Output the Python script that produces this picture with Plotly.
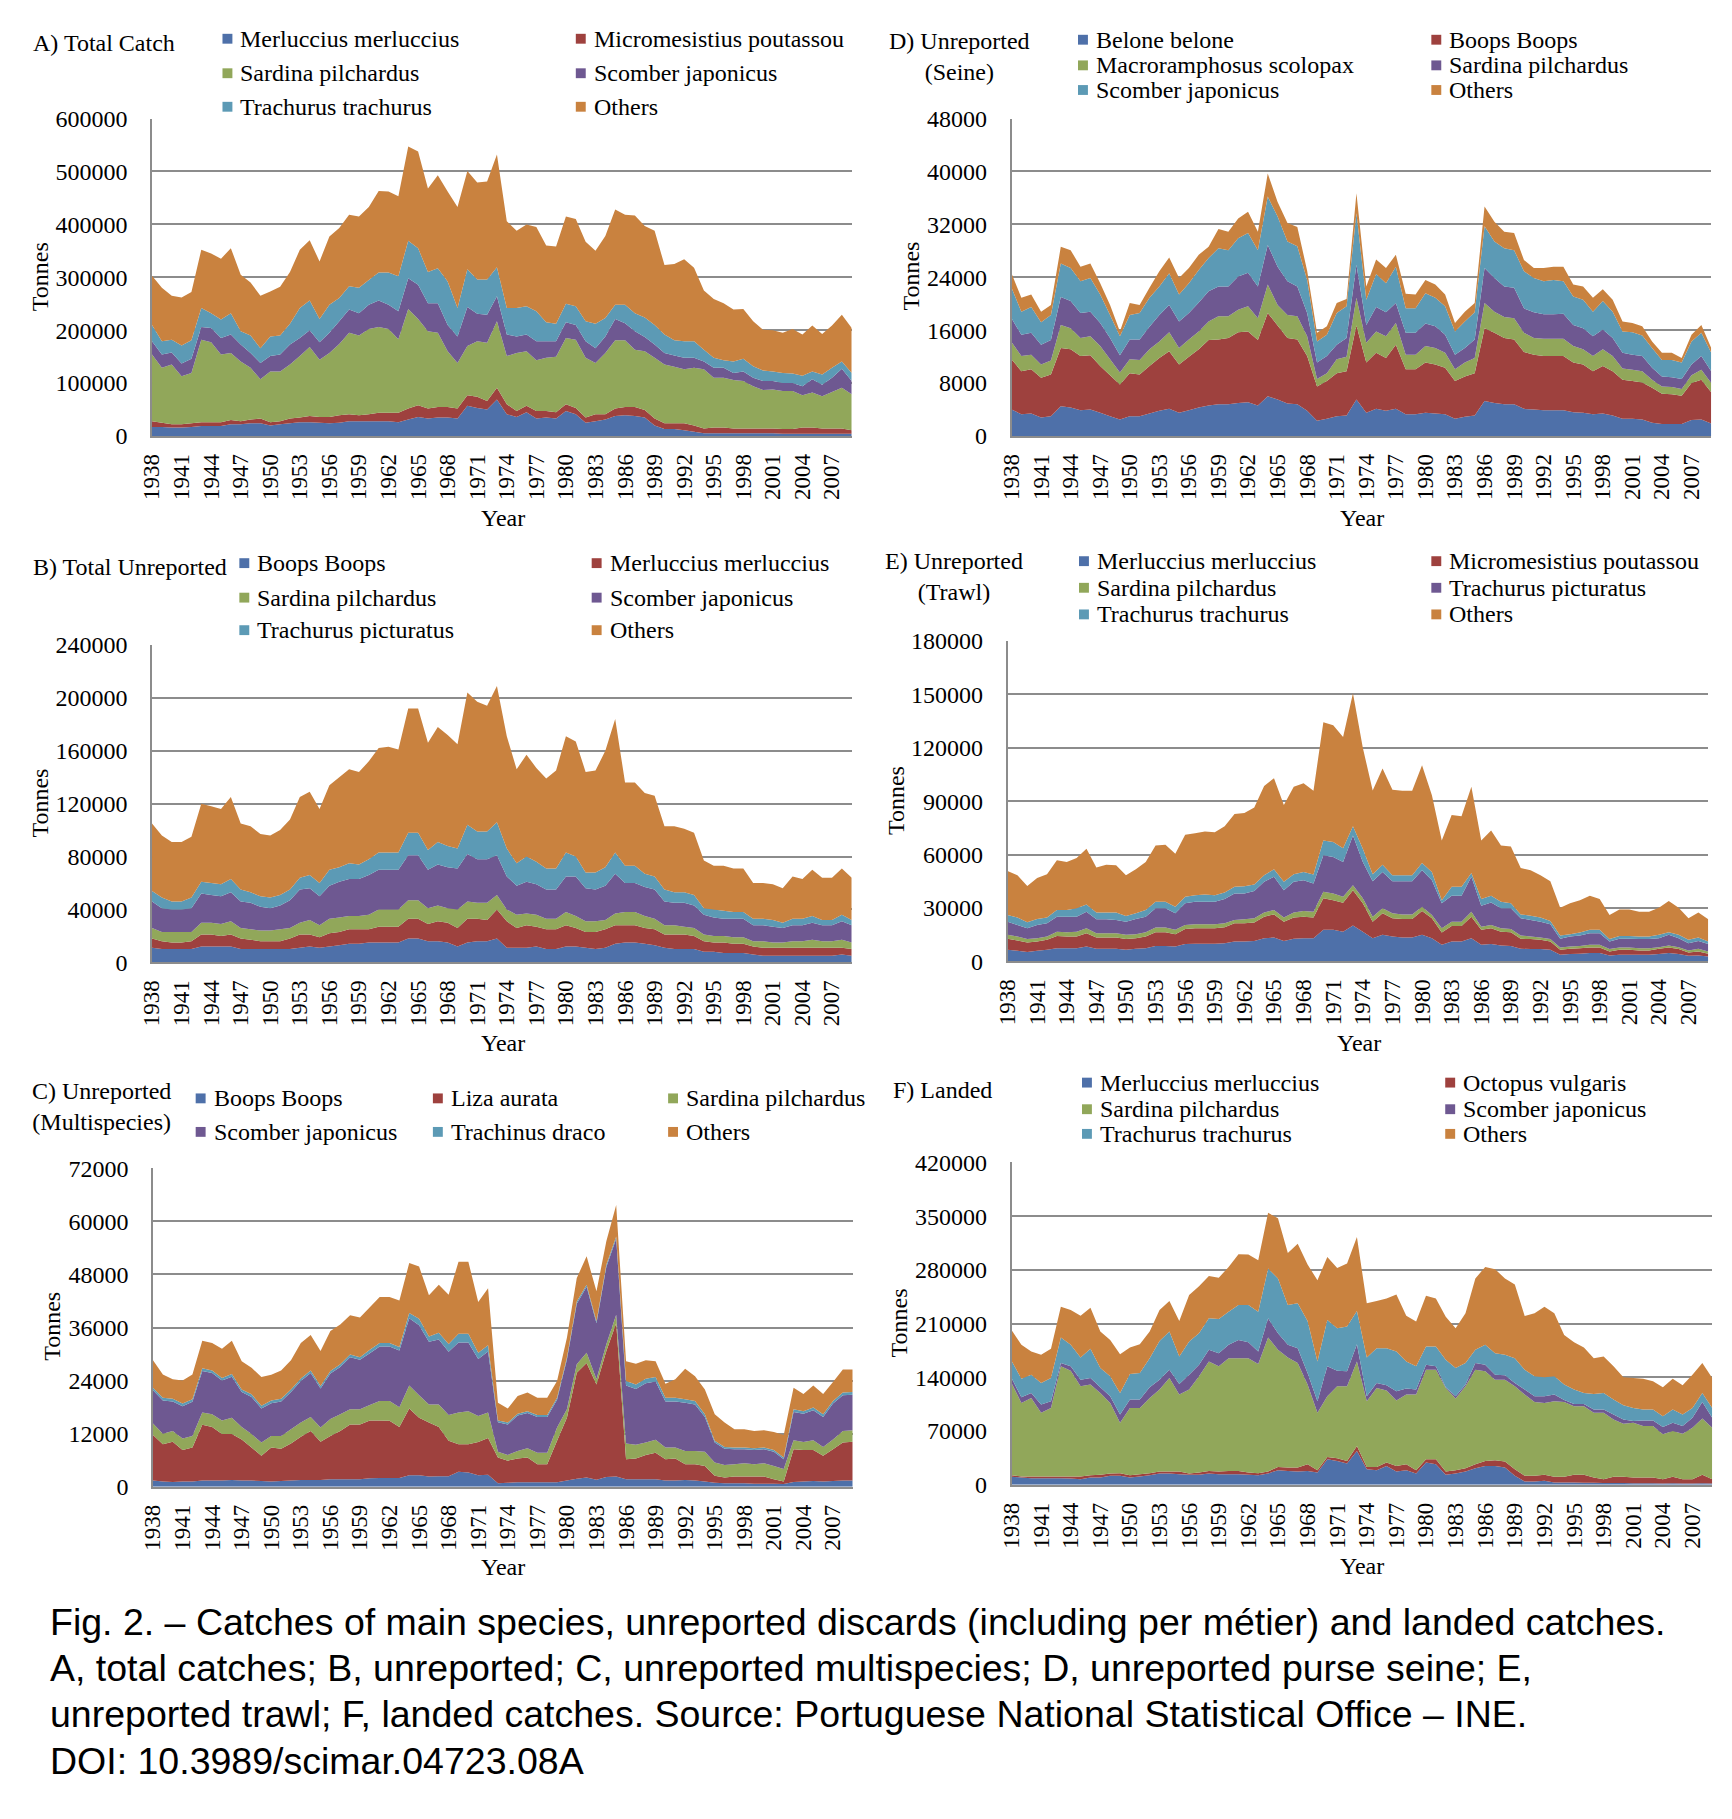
import plotly.graph_objects as go

W, H = 1732, 1819
YEARS = list(range(1938, 2010))
TICK_YEARS = YEARS[::3]

# ---------------- data (thousand tonnes) ----------------
# A) Total Catch
A_merluccius = [17,17,16,16,17,19,19,19,22,22, 24,24,20,22,24,26,26,25,24,25, 28,28,28,28,28,26,31,36,33,35,
                35,33,57,53,50,69,41,36,45,33, 35,33,47,41,25,28,31,38,39,38, 35,20,13,13,11,8,5,5,5,5,
                5,5,5,5,4,4,4,4,4,4, 4,4]
A_micromesistius = [11,8,6,6,7,7,7,7,8,6, 7,9,6,6,9,9,12,11,12,14, 13,11,13,16,16,18,21,22,19,20,
                    20,19,20,21,16,22,19,11,12,14, 12,12,13,12,10,13,10,14,16,17, 14,13,11,11,13,12,9,11,11,9,
                    9,9,9,9,9,9,12,12,10,10, 10,7]
A_sardina = [126,104,113,91,95,156,151,128,127,113, 98,74,96,94,102,116,130,108,121,135,
             154,151,161,162,158,139,188,163,146,140, 105,86,93,105,110,126,91,110,103,96,
             101,105,125,129,113,97,116,129,126,108, 111,115,111,107,102,109,112,94,94,92,
             90,80,73,74,72,72,61,66,61,69, 77,68]
A_scomber = [25,25,23,24,27,24,27,31,35,32, 28,31,29,32,38,34,32,33,38,43, 44,42,46,50,46,53,58,65,53,56,
             50,50,74,52,53,47,41,31,32,36, 31,29,30,28,31,28,31,40,32,35, 27,25,22,21,22,19,15,19,19,13,
             18,16,17,16,15,15,17,25,22,27, 36,25]
A_trachurus = [31,25,24,34,35,36,28,35,40,25, 33,28,37,36,39,57,56,44,53,44, 44,48,47,53,61,66,71,69,59,66,
               82,54,71,65,67,55,50,54,53,57, 36,33,35,35,38,46,35,27,35,34, 37,37,35,29,31,31,22,19,14,22,
               24,22,20,18,19,18,20,15,19,19, 14,15]
A_others = [93,101,83,91,91,110,113,115,123,107, 100,99,85,92,98,110,114,109,129,132,
            135,135,138,154,153,151,178,183,158,176, 170,191,186,183,185,213,164,146,155,159,
            145,146,165,165,150,138,155,180,170,185, 173,178,131,144,155,139,112,111,108,98,
            94,85,77,78,76,84,78,87,77,80, 88,85]

# B) Total Unreported
B_boops = [11,10,10,10,10,12,12,12,12,10, 10,10,10,10,10,11,12,11,12,13, 14,14,15,15,15,15,18,18,16,16,
           15,12,15,16,16,18,11,11,11,12, 10,10,12,12,11,10,11,14,15,15, 14,13,11,10,10,10,8,8,7,7,
           7,6,5,5,5,5,5,5,5,5, 6,5]
B_merluccius = [7,6,5,5,6,9,9,8,9,8, 7,6,6,6,8,10,9,8,10,10, 11,11,10,12,12,12,15,15,13,15,
                15,14,18,17,16,22,20,15,17,15, 15,15,16,14,12,13,14,14,13,13, 12,12,10,11,11,10,8,7,8,7,
                7,6,6,6,6,6,6,6,6,6, 5,5]
B_sardina = [8,7,8,8,7,9,9,9,10,8, 8,8,8,9,8,9,11,9,11,11, 10,10,11,13,13,13,14,14,12,12,
             11,14,13,12,13,11,9,10,9,9, 8,8,10,9,8,8,7,9,10,10, 9,8,7,7,6,6,5,5,5,5,
             5,4,5,4,4,5,5,6,5,5, 6,5]
B_scomber = [20,18,17,17,18,22,21,21,22,20, 20,18,17,18,21,25,24,22,25,27, 28,28,30,30,30,30,34,34,29,31,
             31,31,36,33,33,30,25,22,24,23, 22,22,27,30,25,24,26,30,22,22, 22,22,18,17,18,17,15,14,13,14,
             14,12,12,12,11,12,12,13,12,12, 14,13]
B_picturatus = [8,8,6,6,8,9,9,9,10,9, 8,8,8,8,8,9,10,10,12,11, 12,11,12,13,13,13,17,17,15,17,
                16,15,22,21,21,25,21,17,19,17, 16,16,18,15,12,13,14,16,13,13, 10,10,9,8,8,8,5,6,6,5,
                5,5,5,5,4,5,5,5,4,4, 5,4]
B_others = [51,47,45,45,46,59,58,57,62,50, 50,47,47,49,53,61,63,56,64,68, 71,70,74,79,80,78,94,94,81,87,
            84,79,100,98,95,103,85,71,77,71, 68,74,88,87,76,77,88,101,63,63, 61,61,48,50,48,47,36,33,34,33,
            33,27,27,27,26,32,30,35,32,32, 35,32]

# C) Unreported (Multispecies)
C_boops = [1.4,1.2,1.1,1.2,1.2,1.4,1.4,1.4,1.5,1.4, 1.4,1.3,1.2,1.3,1.4,1.5,1.5,1.5,1.7,1.7,
           1.7,1.7,1.9,2.0,2.0,2.0,2.6,2.6,2.3,2.4, 2.4,3.4,3.2,2.6,2.7,0.8,0.9,1.0,1.0,1.0,
           1.0,1.0,1.4,1.8,2.1,1.6,2.2,2.3,1.7,1.7, 1.7,1.7,1.4,1.4,1.5,1.4,1.2,0.9,0.8,0.8,
           0.8,0.7,0.7,0.7,0.6,1.1,1.2,1.3,1.2,1.3, 1.4,1.4]
C_liza = [10.3,8.4,9.1,7.1,7.7,12.6,12.1,10.5,10.4,9.3, 7.5,5.7,7.7,7.3,8.4,9.8,11.1,8.7,9.8,10.9,
          12.4,12.4,13.1,13.0,12.9,11.5,15.1,13.0,12.2,11.1, 8.0,6.2,6.4,7.5,8.3,5.8,5.0,5.4,5.6,4.1,
          4.1,9.4,14.2,24.0,25.9,21.5,28.5,34.7,4.5,4.7, 5.5,6.0,4.8,5.0,3.6,3.7,3.5,1.6,1.3,1.5,
          1.5,1.6,1.6,1.0,0.6,7.4,7.1,7.0,5.8,7.2, 8.6,8.8]
C_sardina = [2.6,2.4,2.4,2.6,2.6,2.8,2.9,3.1,3.7,2.8, 3.0,3.0,2.6,2.9,3.2,3.2,3.2,3.2,3.8,3.8,
             3.4,3.4,3.5,4.4,4.5,4.5,5.2,5.1,4.1,5.1, 5.8,7.2,7.5,5.9,5.8,1.3,1.3,1.7,2.1,2.6,
             2.6,3.0,1.9,1.9,2.3,1.2,1.5,1.9,3.6,3.1, 2.8,2.9,2.7,2.5,3.0,3.0,3.2,3.0,2.8,2.8,
             3.0,2.8,3.0,3.0,2.8,2.0,1.8,2.2,2.0,2.2, 2.6,2.6]
C_scomber = [7.5,7.5,6.7,7.3,7.7,9.4,9.3,9.0,9.3,7.9, 8.4,7.7,7.4,7.8,8.4,9.4,9.9,8.8,10.3,10.7,
             11.8,11.2,11.7,12.3,12.3,12.8,15.2,15.8,14.2,14.7, 14.3,15.8,15.5,12.9,13.8,6.7,6.9,8.0,8.0,8.1,
             8.1,6.3,11.3,13.7,14.9,12.7,17.5,17.2,13.1,12.6, 13.4,13.2,10.4,10.4,10.9,10.5,7.9,4.5,3.7,3.4,
             3.2,3.2,3.2,3.2,2.2,6.4,6.4,6.8,6.8,8.1, 8.1,8.0]
C_trachinus = [0.6,0.6,0.6,0.6,0.6,0.6,0.6,0.6,0.6,0.6, 0.6,0.6,0.6,0.6,0.6,0.6,0.6,0.6,0.6,0.6,
               0.6,0.6,0.8,0.8,0.8,0.8,1.2,1.5,1.2,1.5, 1.8,2.0,2.0,1.4,1.4,0.4,0.4,0.4,0.4,0.4,
               0.4,0.4,0.4,0.5,0.5,0.4,0.5,0.5,1.0,1.0, 1.0,1.0,0.8,0.8,0.8,0.8,0.6,0.4,0.4,0.4,
               0.4,0.4,0.4,0.4,0.4,0.6,0.6,0.6,0.6,0.6, 0.6,0.6]
C_others = [6.2,5.3,4.4,5.2,5.6,6.2,6.2,6.6,7.5,6.4, 6.0,6.5,5.8,6.4,6.6,8.0,8.0,7.9,9.0,9.0,
            8.9,9.0,9.6,10.4,10.4,10.5,11.3,11.8,9.3,10.9, 11.1,16.3,16.3,11.5,12.9,4.0,3.2,4.0,4.2,3.9,
            3.9,3.8,4.5,5.3,6.4,6.8,5.3,7.1,4.5,4.7, 4.2,3.6,3.2,4.2,6.9,5.6,5.6,6.0,5.5,4.1,
            4.1,3.9,3.9,4.1,5.1,4.9,3.9,5.0,4.6,4.3, 5.2,5.1]

# D) Unreported (Seine)
D_belone = [4.0,3.3,3.4,2.8,3.0,4.5,4.3,3.9,4.0,3.5, 3.0,2.5,3.0,3.0,3.4,3.8,4.1,3.5,3.9,4.3,
            4.6,4.8,4.8,5.0,5.1,4.6,6.0,5.5,4.9,4.8, 3.8,2.3,2.6,3.0,3.1,5.5,3.5,4.1,3.8,4.1,
            3.3,3.3,3.5,3.4,3.3,2.6,2.9,3.1,5.3,5.0, 4.8,4.8,4.1,4.0,3.9,3.9,3.9,3.6,3.5,3.3,
            3.4,3.1,2.6,2.6,2.5,2.0,1.8,1.8,1.8,2.4, 2.5,1.9]
D_boops = [7.6,6.5,6.7,6.0,6.3,8.8,8.8,8.2,8.2,7.1, 6.2,5.3,6.5,6.3,7.2,8.0,8.7,7.3,8.1,8.8,
           9.9,9.8,10.0,10.7,10.7,9.9,12.6,11.2,9.9,9.8, 8.3,5.2,5.7,6.5,6.7,11.2,7.6,8.5,8.0,9.7,
           6.8,6.8,7.6,7.4,7.0,5.7,6.1,6.4,11.0,10.6, 10.0,9.8,8.6,8.3,8.2,8.2,8.2,7.5,7.3,6.5,
           7.2,6.7,5.9,5.7,5.6,5.3,4.6,4.5,4.3,5.6, 6.0,4.7]
D_macroramphosus = [2.6,2.3,2.2,2.0,2.1,3.5,3.2,2.7,2.9,3.0, 2.4,1.8,2.1,2.2,2.5,2.5,2.9,2.5,2.6,2.7,
                    2.8,3.5,3.3,3.4,3.8,3.3,4.3,3.1,3.5,3.5, 3.0,1.1,1.2,2.1,2.2,4.2,3.0,3.2,3.3,3.3,
                    2.2,2.2,2.5,2.5,2.3,1.8,2.1,2.3,3.8,3.2, 3.2,3.2,2.9,2.5,2.6,2.6,2.6,2.5,2.3,2.3,
                    2.5,2.3,1.7,1.7,1.7,1.2,1.1,1.1,1.0,1.2, 1.5,1.4]
D_sardina = [3.6,3.2,3.3,3.0,3.1,4.2,4.1,3.8,3.7,3.5, 3.2,2.6,3.0,3.1,3.4,4.0,4.1,4.0,4.0,4.4,
             4.6,4.5,4.5,5.0,5.1,4.8,6.0,5.8,5.1,4.5, 3.5,2.5,2.6,2.2,2.8,5.0,2.7,3.7,3.6,3.0,
             3.3,3.3,3.4,3.3,2.7,2.2,2.2,2.8,5.3,5.1, 4.6,4.6,3.7,3.9,3.7,3.7,3.8,3.2,3.2,3.0,
             3.0,2.7,2.4,2.3,2.3,1.8,1.5,1.5,1.5,1.6, 2.1,1.8]
D_scomber = [4.6,3.5,3.9,3.4,3.8,5.1,5.0,4.8,5.1,4.3, 3.5,2.9,3.7,4.0,4.4,4.3,4.8,4.1,4.5,4.9,
             5.0,5.8,5.5,5.8,6.0,5.5,7.3,7.6,6.0,6.1, 5.0,3.2,3.2,4.8,4.8,7.8,3.8,5.0,4.4,5.5,
             3.7,3.7,4.6,4.3,4.3,3.5,4.0,4.1,6.3,5.5, 5.8,5.7,5.6,5.2,5.0,5.2,4.9,4.3,4.3,3.7,
             4.3,4.0,3.2,3.4,3.1,3.0,2.5,2.6,2.5,3.5, 3.5,2.8]
D_others = [2.2,2.1,1.9,1.6,1.5,2.5,2.7,2.2,2.2,1.7, 1.5,0.7,1.8,1.2,1.5,2.3,2.4,2.5,2.3,2.3,
            1.7,2.9,2.8,3.0,3.2,2.8,3.5,2.2,2.8,2.9, 1.4,1.3,1.3,1.5,1.1,3.0,2.0,2.2,2.3,1.8,
            2.2,2.1,2.0,2.0,1.8,1.3,1.5,1.4,3.0,3.0, 2.5,2.6,1.7,1.5,2.0,2.0,2.2,1.8,2.0,2.1,
            1.8,1.8,1.5,1.4,1.4,1.0,1.1,1.1,0.7,1.0, 1.2,0.7]

# E) Unreported (Trawl)
E_merluccius = [6.5,6.0,5.2,6.0,6.5,7.4,7.4,7.4,8.4,7.1, 7.1,7.1,6.5,7.1,7.4,8.7,8.7,8.4,9.7,9.9,
                9.9,9.9,10.2,11.2,11.2,11.5,13.0,13.4,11.5,12.7, 13.0,13.0,17.7,17.7,16.7,20.1,16.7,13.0,14.9,14.0,
                13.4,13.4,14.9,13.0,9.3,11.2,11.2,13.0,9.3,9.7, 8.9,8.7,7.1,6.9,6.9,6.5,3.7,4.1,4.3,4.7,
                4.7,3.3,3.7,3.7,3.7,3.7,4.1,4.7,4.1,3.2, 3.3,2.8]
E_micromesistius = [6.2,5.7,5.4,5.2,5.6,6.9,6.6,6.6,7.4,6.3, 6.3,6.3,6.0,5.9,6.6,7.7,7.7,6.9,8.5,8.7,
                    8.7,8.7,9.0,10.2,10.2,10.3,12.1,13.0,10.8,11.9, 12.1,11.7,17.7,16.7,16.2,19.9,15.9,9.3,12.1,10.2,
                    10.4,10.4,13.4,11.2,6.9,8.7,8.7,12.1,8.4,8.9, 7.8,7.7,5.6,5.6,5.2,4.7,2.8,3.0,3.1,3.1,
                    3.1,2.3,2.8,2.8,2.4,2.4,3.0,3.1,2.8,1.8, 2.3,1.5]
E_sardina = [2.2,2.3,1.9,1.8,1.9,2.4,2.4,2.7,2.8,2.4, 2.4,2.4,2.4,2.3,2.4,2.6,2.6,2.4,2.3,2.2,
             2.2,2.2,2.2,1.9,2.2,2.4,2.4,2.4,2.3,2.9, 3.2,3.2,3.7,3.7,3.4,2.8,2.8,2.8,2.8,2.8,
             2.6,2.6,2.4,1.9,2.4,2.4,2.4,2.8,1.8,1.9, 1.9,1.8,1.8,1.5,1.3,1.3,1.3,1.3,1.3,1.5,
             1.5,1.3,1.3,1.3,1.3,1.3,0.9,1.1,1.1,1.1, 1.5,1.3]
E_picturatus = [7.4,6.5,6.1,7.5,7.4,8.4,8.7,8.4,9.3,7.8, 7.8,7.5,7.4,8.5,8.7,10.8,10.8,9.3,12.1,12.7,
                12.7,12.7,13.6,14.8,14.5,15.3,17.2,18.7,15.4,17.2, 17.3,15.8,20.5,20.5,19.5,27.9,20.4,19.9,20.4,18.0,
                18.6,18.6,20.5,19.5,14.0,14.5,14.5,19.6,11.8,12.6, 11.2,11.6,9.7,9.3,8.9,8.3,4.9,5.6,5.8,6.5,
                6.5,4.3,4.9,4.9,5.1,5.1,5.0,6.0,5.0,4.1, 4.4,4.1]
E_trachurus = [3.8,4.1,3.4,3.3,3.2,3.7,3.7,4.7,4.1,3.8, 3.9,4.2,3.2,3.2,3.7,3.7,3.7,3.7,3.7,3.7,
               4.1,3.7,3.7,3.8,4.1,3.7,3.7,4.2,4.7,4.3, 4.6,5.1,8.3,8.4,7.8,5.2,7.5,4.0,4.1,3.4,
               3.4,3.4,4.1,4.6,1.8,5.1,5.1,2.2,3.7,3.7, 3.7,2.8,2.2,2.4,2.3,1.9,1.8,1.3,1.7,1.9,
               1.9,1.3,1.6,1.6,1.5,1.5,1.9,1.5,1.9,1.9, 1.9,1.5]
E_others = [24.7,23.8,20.4,23.1,24.4,28.0,27.0,28.3,31.3,25.3, 26.8,26.5,22.9,24.7,27.0,31.6,32.0,29.8,34.8,34.8,
            35.3,35.4,37.2,40.9,41.2,43.3,50.2,51.2,43.1,49.1, 49.9,47.0,66.5,65.7,62.4,74.8,56.7,47.0,54.0,48.0,
            47.4,47.4,54.9,43.2,33.5,40.4,39.6,48.4,32.9,36.7, 31.6,32.0,26.1,25.5,23.8,22.3,15.6,17.3,18.2,19.1,
            17.3,13.6,14.9,14.9,13.9,13.9,15.2,17.5,15.2,12.1, 14.0,12.4]

# F) Landed
F_merluccius = [10.4,9.5,8.6,8.6,8.6,8.6,8.2,7.3,9.5,9.5, 11.7,11.7,9.5,10.8,12.5,14.7,14.7,13.8,13.0,13.0,
                14.7,13.8,13.8,13.8,13.0,12.5,14.7,19.0,18.1,17.3, 18.1,16.0,33.3,31.1,27.7,44.1,20.3,19.0,24.6,17.3,
                19.0,14.7,29.0,26.8,13.0,14.7,17.3,21.6,24.6,24.6, 22.5,11.7,4.3,4.3,5.2,3.0,3.0,3.0,2.8,2.5,
                2.2,2.2,2.2,2.0,2.0,2.0,1.8,2.0,1.8,1.8, 2.0,1.8]
F_octopus = [2.1,1.3,2.2,2.2,2.2,2.2,2.6,3.5,3.0,3.5, 3.0,3.4,3.0,3.0,2.6,2.6,2.6,3.5,1.7,3.0,
             3.4,3.5,4.3,4.3,3.0,2.6,2.6,4.3,4.4,5.2, 8.7,3.0,3.0,3.5,3.4,6.5,3.0,4.3,4.4,7.3,
             7.8,4.3,4.3,6.5,4.3,4.3,4.3,5.2,6.5,7.4, 7.7,8.6,7.4,7.4,7.8,7.4,7.4,10.0,10.2,7.0,
             5.1,8.2,8.2,7.5,7.5,7.5,5.5,8.4,5.5,5.5, 11.0,5.5]
F_sardina = [120.2,95.9,102.4,83.0,89.4,143.5,137.8,117.5,118.0,106.7, 92.0,65.7,87.7,86.4,98.1,106.7,121.8,100.2,109.3,125.3,
             142.6,137.0,146.9,146.9,149.0,142.2,174.6,152.6,143.4,136.1, 103.7,74.8,79.1,93.7,97.2,110.1,85.6,102.9,93.7,85.2,
             90.7,98.5,116.6,116.6,108.9,93.3,106.7,123.1,116.7,105.0, 106.8,108.0,105.8,96.3,93.7,98.5,97.6,89.4,89.4,84.3,
             86.5,74.7,69.1,71.3,67.0,67.0,58.4,59.6,59.2,67.0, 73.4,67.0]
F_scomber = [6.4,7.4,6.5,10.8,8.7,4.3,5.7,8.7,8.6,7.3, 8.7,10.8,10.8,10.8,13.8,13.0,10.8,13.9,19.5,15.1,
             15.2,17.2,17.3,23.8,20.8,16.4,25.0,21.6,16.4,19.4, 15.1,15.1,38.9,20.3,19.5,22.5,6.5,6.5,6.9,12.1,
             7.8,6.5,6.5,4.4,0.8,3.1,2.2,8.7,8.6,6.5, 5.6,4.4,6.5,7.4,8.7,8.6,2.5,3.0,3.0,4.3,
             4.3,6.5,5.6,2.2,7.3,7.3,9.5,10.8,10.0,13.0, 21.6,13.0]
F_trachurus = [22.5,24.2,23.8,28.1,30.2,33.3,28.0,28.9,38.1,25.1, 25.9,28.1,33.3,34.6,38.0,50.5,49.7,35.8,43.2,41.1,
               41.0,44.5,43.2,45.4,48.4,51.8,64.8,71.2,51.9,58.4, 67.9,51.8,60.4,55.4,58.3,43.2,50.5,45.3,48.4,51.8,
               35.4,30.3,23.8,25.9,35.9,36.7,28.1,17.3,25.9,28.0, 26.8,32.3,25.9,25.9,24.6,23.8,20.0,18.6,14.3,20.3,
               21.6,19.4,18.6,17.2,14.3,14.3,14.2,17.3,15.1,12.9, 11.7,12.9]
F_others = [40.2,44.0,30.2,36.7,38.1,40.1,45.4,54.5,53.5,47.5, 47.5,50.5,34.6,37.6,34.6,40.2,39.8,46.3,60.5,61.3,
            55.3,53.6,58.4,66.1,65.7,67.0,72.6,78.7,67.8,77.7, 73.4,105.9,82.2,78.6,82.1,96.4,70.5,61.4,64.8,74.3,
            59.7,58.3,66.1,62.6,56.1,51.9,64.8,92.8,101.6,109.4, 99.3,96.0,70.0,82.1,92.0,82.1,64.8,61.8,59.2,46.6,
            47.5,43.3,36.3,38.9,40.2,36.7,37.6,40.2,38.0,43.3, 38.9,38.9]

COLORS = ['#4E70A9', '#9E413E', '#91A75A', '#6E5891', '#5C9AB5', '#C9823F']
SERIF = 'Liberation Serif, Times New Roman, serif'
SANS = 'Liberation Sans, Arial, sans-serif'


def fx(px):
    return px / W


def fy(py):
    return 1 - py / H


panels = [
    dict(title='A) Total Catch', title_xy=(10, 22), title_anchor='left',
         names=['Merluccius merluccius', 'Micromesistius poutassou', 'Sardina pilchardus',
                'Scomber japonicus', 'Trachurus trachurus', 'Others'],
         series=[A_merluccius, A_micromesistius, A_sardina, A_scomber, A_trachurus, A_others],
         ymax=600000, dtick=100000, box=(132, 837, 99, 421),
         leg_cols=[203, 559], leg_rows=[18, 53, 87], ncol=2,
         tonnes=(19, 259), year=(486, 504)),
    dict(title='D) Unreported<br>(Seine)', title_xy=(946, 36), title_anchor='center',
         names=['Belone belone', 'Boops Boops', 'Macroramphosus scolopax',
                'Sardina pilchardus', 'Scomber japonicus', 'Others'],
         series=[D_belone, D_boops, D_macroramphosus, D_sardina, D_scomber, D_others],
         ymax=48000, dtick=8000, box=(998, 1703, 99, 421),
         leg_cols=[1065, 1421], leg_rows=[19, 45, 70], ncol=2,
         tonnes=(897, 259), year=(1351, 504)),
    dict(title='B) Total Unreported', title_xy=(10, 554), title_anchor='left',
         names=['Boops Boops', 'Merluccius merluccius', 'Sardina pilchardus',
                'Scomber japonicus', 'Trachurus picturatus', 'Others'],
         series=[B_boops, B_merluccius, B_sardina, B_scomber, B_picturatus, B_others],
         ymax=240000, dtick=40000, box=(132, 837, 633, 955),
         leg_cols=[220, 575], leg_rows=[550, 585, 618], ncol=2,
         tonnes=(19, 793), year=(486, 1037)),
    dict(title='E) Unreported<br>(Trawl)', title_xy=(940, 564), title_anchor='center',
         names=['Merluccius merluccius', 'Micromesistius poutassou', 'Sardina pilchardus',
                'Trachurus picturatus', 'Trachurus trachurus', 'Others'],
         series=[E_merluccius, E_micromesistius, E_sardina, E_picturatus, E_trachurus, E_others],
         ymax=180000, dtick=30000, box=(994, 1700, 629, 954),
         leg_cols=[1066, 1421], leg_rows=[548, 575, 602], ncol=2,
         tonnes=(881, 791), year=(1348, 1037)),
    dict(title='C) Unreported<br>(Multispecies)', title_xy=(81, 1101), title_anchor='center',
         names=['Boops Boops', 'Liza aurata', 'Sardina pilchardus',
                'Scomber japonicus', 'Trachinus draco', 'Others'],
         series=[C_boops, C_liza, C_sardina, C_scomber, C_trachinus, C_others],
         ymax=72000, dtick=12000, box=(133, 838, 1164, 1487),
         leg_cols=[176, 415, 652], leg_rows=[1093, 1127], ncol=3,
         tonnes=(31, 1324), year=(486, 1568)),
    dict(title='F) Landed', title_xy=(877, 1085), title_anchor='left',
         names=['Merluccius merluccius', 'Octopus vulgaris', 'Sardina pilchardus',
                'Scomber japonicus', 'Trachurus trachurus', 'Others'],
         series=[F_merluccius, F_octopus, F_sardina, F_scomber, F_trachurus, F_others],
         ymax=420000, dtick=70000, box=(998, 1704, 1158, 1485),
         leg_cols=[1069, 1435], leg_rows=[1077, 1104, 1129], ncol=2,
         tonnes=(885, 1321), year=(1351, 1567)),
]

fig = go.Figure()
annotations = []
shapes = []
layout_axes = {}

for i, p in enumerate(panels):
    n = i + 1
    xa = 'x' if n == 1 else f'x{n}'
    ya = 'y' if n == 1 else f'y{n}'
    for name, vals, col in zip(p['names'], p['series'], COLORS):
        fig.add_trace(go.Scatter(
            x=YEARS, y=[v * 1000 for v in vals], name=name,
            mode='none', stackgroup=f'g{n}', fill='tonexty', fillcolor=col,
            line=dict(width=0), showlegend=False, xaxis=xa, yaxis=ya))
    x0, x1, y0, y1 = p['box']
    layout_axes['xaxis' if n == 1 else f'xaxis{n}'] = dict(
        domain=[fx(x0), fx(x1)], anchor=ya, range=[1938, 2009],
        tickvals=TICK_YEARS, ticktext=[str(t) for t in TICK_YEARS],
        tickangle=-90, tickfont=dict(family=SERIF, size=23, color='black'),
        showgrid=False, zeroline=False, showline=True, linecolor='#8C8C8C', linewidth=1.5,
        ticks='', ticklabelstandoff=7, fixedrange=True)
    layout_axes['yaxis' if n == 1 else f'yaxis{n}'] = dict(
        domain=[fy(y1), fy(y0)], anchor=xa, range=[0, p['ymax']], dtick=p['dtick'],
        tickformat='d', tickfont=dict(family=SERIF, size=24, color='black'),
        showgrid=True, gridcolor='#8C8C8C', gridwidth=2, zeroline=False,
        showline=True, linecolor='#8C8C8C', linewidth=1.5,
        ticks='', ticklabelstandoff=18, fixedrange=True)

    # panel title
    tx, ty = p['title_xy']
    annotations.append(dict(
        text=p['title'], x=fx(tx), y=fy(ty), xref='paper', yref='paper',
        xanchor=p['title_anchor'], yanchor='middle', showarrow=False, align='center',
        font=dict(family=SERIF, size=24, color='black')))

    # legend (grid of swatches + labels)
    for k, (name, col) in enumerate(zip(p['names'], COLORS)):
        r, c = divmod(k, p['ncol'])
        sx = p['leg_cols'][c]
        ry = p['leg_rows'][r]
        shapes.append(dict(type='rect', xref='paper', yref='paper',
                           x0=fx(sx), x1=fx(sx + 10), y0=fy(ry + 5), y1=fy(ry - 5),
                           fillcolor=col, line=dict(width=0)))
        annotations.append(dict(
            text=name, x=fx(sx + 16), y=fy(ry), xref='paper', yref='paper',
            xanchor='left', yanchor='middle', showarrow=False,
            font=dict(family=SERIF, size=24, color='black')))

    # axis titles
    annotations.append(dict(
        text='Tonnes', x=fx(p['tonnes'][0]), y=fy(p['tonnes'][1]), xref='paper', yref='paper',
        textangle=-90, xanchor='center', yanchor='middle', showarrow=False,
        font=dict(family=SERIF, size=24, color='black')))
    annotations.append(dict(
        text='Year', x=fx(p['year'][0]), y=fy(p['year'][1]), xref='paper', yref='paper',
        xanchor='center', yanchor='middle', showarrow=False,
        font=dict(family=SERIF, size=24, color='black')))

caption = [
    'Fig. 2. \u2013 Catches of main species, unreported discards (including per m\u00e9tier) and landed catches.',
    'A, total catches; B, unreported; C, unreported multispecies; D, unreported purse seine; E,',
    'unreported trawl; F, landed catches. Source: Portuguese National Statistical Office \u2013 INE.',
    'DOI: 10.3989/scimar.04723.08A',
]
for j, line in enumerate(caption):
    annotations.append(dict(
        text=line, x=fx(27), y=fy(1624 + 47 * j), xref='paper', yref='paper',
        xanchor='left', yanchor='middle', showarrow=False,
        font=dict(family=SANS, size=37.5, color='black')))

fig.update_layout(
    width=W, height=H, autosize=False,
    margin=dict(l=0, r=0, t=0, b=0),
    paper_bgcolor='white', plot_bgcolor='white',
    annotations=annotations, shapes=shapes,
    **layout_axes)

fig.write_html('out.html')
